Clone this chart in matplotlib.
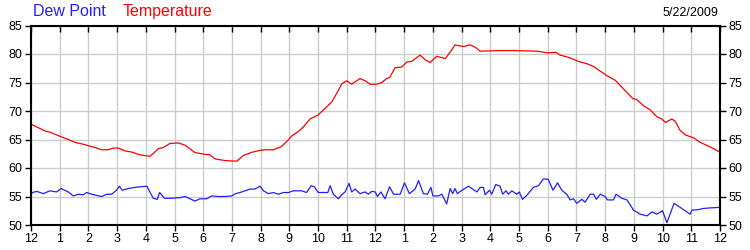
import matplotlib
matplotlib.use("Agg")
import matplotlib.pyplot as plt

plt.rcParams['font.family'] = ['Liberation Sans', 'DejaVu Sans']

# hours since midnight and readings (deg F)
temp_hours = [0, 0.2, 0.49, 0.66, 0.99, 1.3, 1.53, 1.88, 2.0, 2.23, 2.46, 2.69,
              2.87, 3.04, 3.27, 3.51, 3.8, 4.15, 4.44, 4.61, 4.84, 5.13, 5.37,
              5.71, 6.06, 6.24, 6.41, 6.76, 7.17, 7.4, 7.69, 7.98, 8.15, 8.44,
              8.72, 8.9, 9.08, 9.31, 9.49, 9.72, 10.0, 10.19, 10.48, 10.65,
              10.83, 11.0, 11.17, 11.46, 11.64, 11.81, 12.04, 12.22, 12.39,
              12.5, 12.68, 12.91, 13.09, 13.26, 13.55, 13.73, 13.9, 14.13,
              14.43, 14.6, 14.77, 15.06, 15.3, 15.47, 15.65, 16.34, 16.8,
              17.62, 18.0, 18.29, 18.43, 18.66, 18.84, 19.07, 19.36, 19.6,
              19.83, 20.06, 20.35, 20.52, 20.75, 20.96, 21.1, 21.34, 21.57,
              21.8, 21.97, 22.1, 22.32, 22.44, 22.61, 22.79, 23.08, 23.31,
              23.66, 24.0]
temperature = [67.7, 67.2, 66.5, 66.3, 65.6, 65.0, 64.5, 64.1, 63.9, 63.6, 63.2,
               63.2, 63.5, 63.5, 63.0, 62.8, 62.3, 62.05, 63.4, 63.6, 64.3, 64.4,
               64.0, 62.7, 62.4, 62.3, 61.6, 61.3, 61.2, 62.2, 62.75, 63.1, 63.2,
               63.2, 63.75, 64.6, 65.6, 66.4, 67.2, 68.6, 69.3, 70.2, 71.6, 73.1,
               74.8, 75.3, 74.7, 75.7, 75.3, 74.7, 74.7, 75.0, 75.7, 75.9, 77.6,
               77.7, 78.6, 78.7, 79.8, 79.0, 78.5, 79.6, 79.2, 80.3, 81.6, 81.3,
               81.6, 81.2, 80.5, 80.6, 80.6, 80.5, 80.2, 80.3, 79.8, 79.5, 79.2,
               78.7, 78.3, 77.8, 77.0, 76.2, 75.4, 74.5, 73.3, 72.2, 72.0, 70.9,
               70.2, 69.0, 68.6, 68.0, 68.6, 68.2, 66.6, 65.8, 65.3, 64.5, 63.7,
               62.8]

dew_hours = [0, 0.05, 0.2, 0.43, 0.66, 0.89, 1.05, 1.3, 1.47, 1.65, 1.82, 1.94,
             2.11, 2.46, 2.64, 2.81, 2.98, 3.08, 3.18, 3.39, 3.62, 3.8, 4.04,
             4.15, 4.26, 4.4, 4.48, 4.65, 4.9, 5.19, 5.37, 5.54, 5.71, 5.89,
             6.12, 6.29, 6.53, 6.76, 6.99, 7.13, 7.28, 7.46, 7.63, 7.8, 7.98,
             8.1, 8.27, 8.44, 8.62, 8.79, 8.97, 9.14, 9.43, 9.6, 9.76, 9.87,
             10.01, 10.34, 10.42, 10.53, 10.71, 10.82, 10.94, 11.08, 11.17,
             11.29, 11.46, 11.64, 11.75, 11.87, 11.99, 12.07, 12.19, 12.33,
             12.49, 12.63, 12.86, 13.01, 13.18, 13.38, 13.5, 13.67, 13.81,
             13.93, 14.0, 14.19, 14.31, 14.48, 14.6, 14.69, 14.77, 14.85,
             15.01, 15.24, 15.53, 15.65, 15.76, 15.82, 15.97, 16.05, 16.19,
             16.34, 16.43, 16.55, 16.63, 16.75, 16.92, 17.01, 17.12, 17.27,
             17.5, 17.68, 17.85, 18.02, 18.18, 18.34, 18.49, 18.66, 18.78,
             18.9, 19.01, 19.19, 19.3, 19.48, 19.6, 19.69, 19.83, 20.0, 20.08,
             20.29, 20.38, 20.58, 20.76, 20.99, 21.22, 21.46, 21.63, 21.8,
             22.0, 22.15, 22.4, 22.67, 22.96, 23.02, 23.25, 23.42, 23.66, 24.0]
dew_point = [55.3, 55.7, 55.9, 55.5, 56.0, 55.8, 56.4, 55.8, 55.1, 55.4, 55.3,
             55.7, 55.4, 55.0, 55.4, 55.4, 56.1, 56.8, 56.1, 56.4, 56.6, 56.7,
             56.8, 55.7, 54.7, 54.5, 55.7, 54.7, 54.7, 54.8, 55.0, 54.6, 54.2,
             54.6, 54.6, 55.1, 55.0, 55.0, 55.1, 55.5, 55.7, 56.0, 56.3, 56.3,
             56.8, 56.0, 55.5, 55.7, 55.4, 55.7, 55.7, 56.0, 56.0, 55.7, 56.9,
             56.7, 55.7, 55.7, 56.9, 55.4, 54.6, 55.3, 55.8, 57.3, 55.8, 56.3,
             55.5, 55.8, 55.4, 55.9, 55.8, 55.0, 55.8, 54.6, 56.7, 55.4, 55.4,
             57.4, 55.5, 56.3, 57.8, 55.5, 55.4, 56.6, 55.1, 55.1, 55.4, 53.7,
             56.4, 55.5, 56.4, 55.5, 56.1, 56.8, 55.8, 56.6, 56.6, 55.3, 56.1,
             55.4, 57.1, 56.8, 55.4, 56.0, 55.4, 56.0, 55.4, 55.8, 54.5, 55.2,
             56.6, 56.9, 58.1, 58.0, 56.1, 57.4, 56.1, 55.4, 54.4, 54.6, 53.8,
             54.5, 54.0, 55.4, 55.4, 54.5, 55.4, 55.0, 54.4, 54.4, 55.4, 54.7,
             54.4, 52.6, 51.9, 51.6, 52.3, 51.9, 52.5, 50.4, 53.8, 52.9, 51.9,
             52.6, 52.7, 52.9, 53.0, 53.1]

hour_labels = ['12', '1', '2', '3', '4', '5', '6', '7', '8', '9', '10', '11',
               '12', '1', '2', '3', '4', '5', '6', '7', '8', '9', '10', '11', '12']
date_label = '5/22/2009'

fig = plt.figure(figsize=(7.5, 2.5), dpi=100)
ax = fig.add_axes([0.0413, 0.1, 0.9187, 0.798])

ax.plot(temp_hours, temperature, color='#ff0000', lw=0.9)
ax.plot(dew_hours, dew_point, color='#2020ff', lw=0.9)

ax.set_xlim(0, 24)
ax.set_ylim(50, 85)
ax.set_xticks(range(25))
ax.set_xticklabels(hour_labels)
ax.set_yticks(range(50, 86, 5))
ax.grid(True, color='#cccccc', lw=1)
ax.set_axisbelow(True)

ax.tick_params(axis='both', labelsize=9, length=4, width=1, colors='black', pad=2)
ax.tick_params(axis='x', top=True, labeltop=False)
ax.tick_params(axis='y', right=True, labelright=True)
ax.tick_params(axis='x', which='major', direction='out')
for t in ax.xaxis.get_ticklines()[1::2]:
    # top ticks point into the plot
    t.set_marker(3)
for s in ax.spines.values():
    s.set_linewidth(1.5)

fig.text(0.044, 0.935, 'Dew Point', color='#2020ff', fontsize=11.5)
fig.text(0.164, 0.935, 'Temperature', color='#ff0000', fontsize=11.5)
fig.text(0.958, 0.935, date_label, color='black', fontsize=9, ha='right')

fig.savefig('out.png', dpi=100)
